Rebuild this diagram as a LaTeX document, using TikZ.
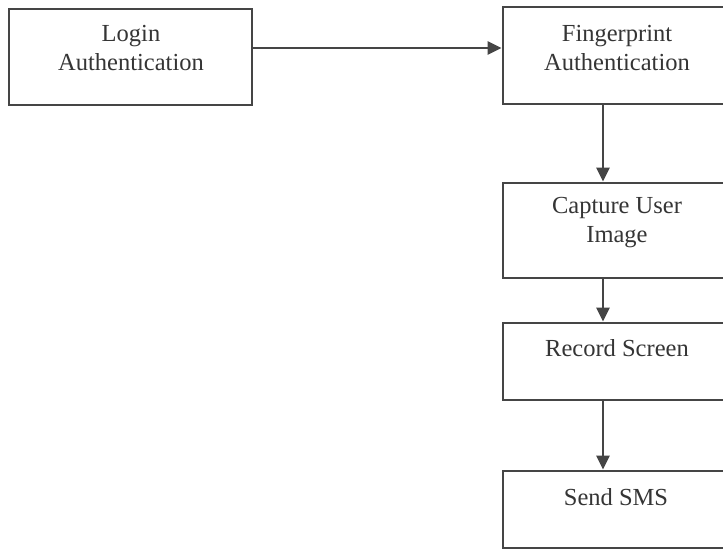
\documentclass[tikz,border=0pt]{standalone}
\usepackage{fontspec}
\setmainfont{Liberation Serif}
\usetikzlibrary{arrows.meta}
\definecolor{ink}{HTML}{454545}
\definecolor{txt}{HTML}{353535}
\tikzset{
  box/.style={draw=ink, line width=2.8pt, rectangle, inner sep=0pt},
  lbl/.style={text=txt, font=\fontsize{24.5}{29.5}\selectfont, align=center, inner sep=0pt},
  arr/.style={draw=ink, line width=2.8pt, -{Triangle[length=14pt,width=13pt]}}
}
\begin{document}
\begin{tikzpicture}[x=1pt,y=-1pt]
  \useasboundingbox (0,0) rectangle (723,552);
  \clip (0,0) rectangle (723,552);
  \fill[white] (0,0) rectangle (723,552);

  % boxes
  \node[box, minimum width=243pt, minimum height=96pt] (login) at (130.5,57) {};
  \node[box, minimum width=228pt, minimum height=97pt] (fp) at (617,55.5) {};
  \node[box, minimum width=228pt, minimum height=95pt] (cap) at (617,230.5) {};
  \node[box, minimum width=228pt, minimum height=77pt] (rec) at (617,361.5) {};
  \node[box, minimum width=228pt, minimum height=77pt] (sms) at (617,509.5) {};

  % labels
  \node[lbl] (loginT) at (131,48) {Login\\Authentication};
  \node[lbl] (fpT) at (617,48) {Fingerprint\\Authentication};
  \node[lbl] (capT) at (617,222.5) {Capture User\\Image};
  \node[lbl] (recT) at (617,348) {Record Screen};
  \node[lbl] (smsT) at (616,497) {Send SMS};

  % connectors
  \draw[arr] ([yshift=9pt]login.east) -- ([yshift=9pt]login.east -| fp.west);
  \draw[arr] ([xshift=-14pt]fp.south) -- ([xshift=-14pt]cap.north);
  \draw[arr] ([xshift=-14pt]cap.south) -- ([xshift=-14pt]rec.north);
  \draw[arr] ([xshift=-14pt]rec.south) -- ([xshift=-14pt]sms.north);
\end{tikzpicture}
\end{document}
